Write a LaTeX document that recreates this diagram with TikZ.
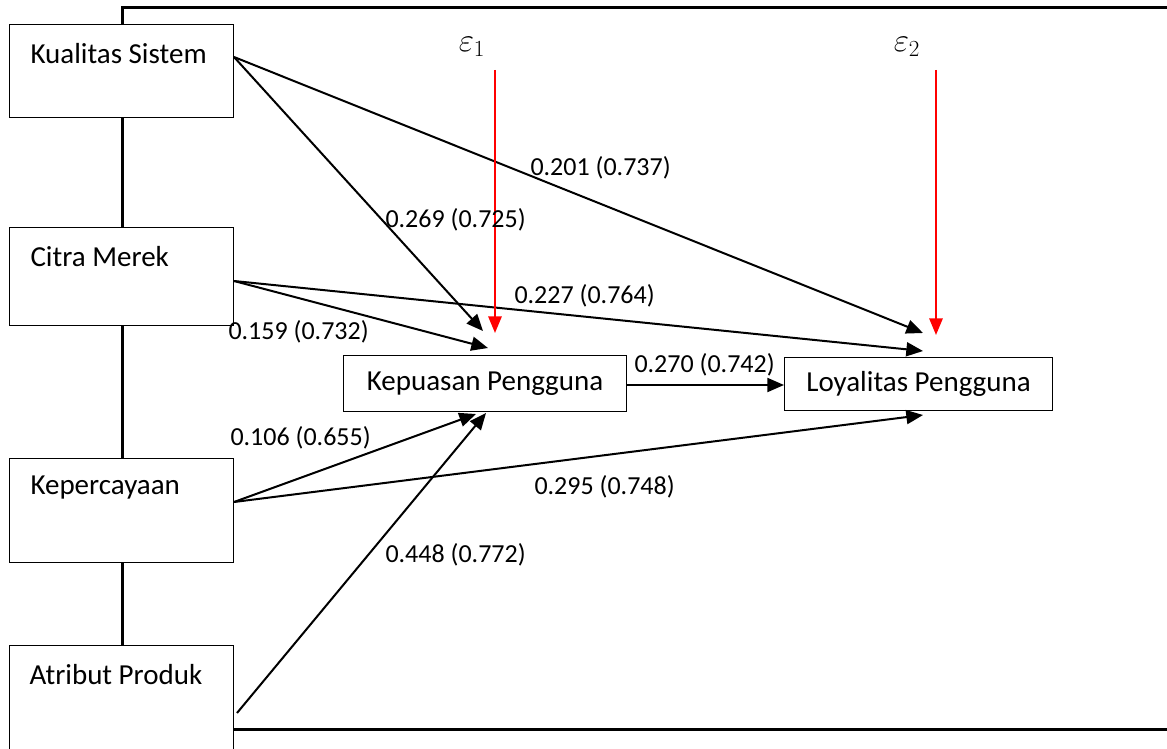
\documentclass[tikz,border=0pt]{standalone}
\usepackage{fontspec}
\setmainfont{Carlito}
\usetikzlibrary{arrows.meta,calc,positioning}

\tikzset{every picture/.style={line width=0.75pt}}
\tikzset{
  srcbox/.style={draw, fill=white, anchor=north west, minimum width=168pt, inner sep=0pt},
  tgtbox/.style={draw, fill=white, anchor=north west, inner sep=0pt, font=\fontsize{21.75}{26}\selectfont},
  boxtxt/.style={anchor=west, inner sep=0pt, font=\fontsize{21.75}{26}\selectfont},
  coef/.style={anchor=west, inner sep=0pt, font=\fontsize{19.5}{23}\selectfont},
  conn/.style={line width=1.5pt, -{Triangle[length=12.5pt,width=10.5pt]}},
  errline/.style={draw={rgb,255:red,255;green,0;blue,0}, line width=1.5pt, -{Triangle[length=12.5pt,width=10pt]}},
  errlbl/.style={inner sep=0pt, font=\fontsize{26}{30}\selectfont}
}

\begin{document}
\begin{tikzpicture}[x=0.75pt,y=0.75pt,yscale=-1,xscale=1]
\useasboundingbox (0,0) rectangle (1167,749);

%Frame
\draw [line width=2.25pt] (122,8) rectangle (1190,729) ;

% Source boxes
\node [srcbox, minimum height=69.75pt] (ks) at (9,24) {};
\node [srcbox, minimum height=73.5pt] (cm) at (9,227) {};
\node [srcbox, minimum height=78pt] (kep) at (9,458) {};
\node [srcbox, minimum height=84pt] (ap) at (9,645) {};
\node [boxtxt] (ks-t) at ($(ks.north west)+(21,30)$) {Kualitas Sistem};
\node [boxtxt] (cm-t) at ($(cm.north west)+(21,30)$) {Citra Merek};
\node [boxtxt] (kep-t) at ($(kep.north west)+(21,30)$) {Kepercayaan};
\node [boxtxt] (ap-t) at ($(ap.north west)+(20,30)$) {Atribut Produk};

% Target boxes
\node [tgtbox, minimum width=212.25pt, minimum height=42pt] (kp) at (343,355) {Kepuasan Pengguna};
\node [tgtbox, minimum width=201pt, minimum height=39.75pt] (lp) at (784,357) {Loyalitas Pengguna};

% Arrow ends
\coordinate (kp-ks) at (483,331);
\coordinate (kp-cm) at (488,348);
\coordinate (kp-kep) at (476,414);
\coordinate (kp-ap) at (486,413);
\coordinate (lp-ks) at (923,333);
\coordinate (lp-cm) at (923,351);
\coordinate (lp-kep) at (923,415);

%Straight Lines
\draw [conn] ($(ks.north east)+(0,33)$) -- (kp-ks) ;
\draw [conn] ($(ks.north east)+(0,33)$) -- (lp-ks) ;
\draw [conn] ($(cm.north east)+(0,54)$) -- (kp-cm) ;
\draw [conn] ($(cm.north east)+(0,54)$) -- (lp-cm) ;
\draw [conn] ($(kep.north east)+(0,44)$) -- (kp-kep) ;
\draw [conn] ($(kep.north east)+(0,44)$) -- (lp-kep) ;
\draw [conn] ($(ap.north east)+(3,68)$) -- (kp-ap) ;
\draw [conn] (kp.east |- 0,385) -- (lp.west |- 0,385) ;

% Error terms
\node [errlbl] (eps1) at (472,47) {$\varepsilon_1$};
\node [errlbl] (eps2) at (907,47) {$\varepsilon_2$};
\coordinate (e1-top) at (495,70);
\coordinate (e1-tip) at (495,333);
\coordinate (e2-top) at (936,70);
\coordinate (e2-tip) at (936,335);
\draw [errline] (e1-top) -- (e1-tip) ;
\draw [errline] (e2-top) -- (e2-tip) ;

% Text Node
\node [coef] (c1) at (530,168) {0.201 (0.737)};
\node [coef] (c2) at (385,220) {0.269 (0.725)};
\node [coef] (c3) at (514,296) {0.227 (0.764)};
\node [coef] (c4) at (228,332) {0.159 (0.732)};
\node [coef] (c5) at (634,365) {0.270 (0.742)};
\node [coef] (c6) at (230,438) {0.106 (0.655)};
\node [coef] (c7) at (534,487) {0.295 (0.748)};
\node [coef] (c8) at (385,555) {0.448 (0.772)};

\end{tikzpicture}
\end{document}
